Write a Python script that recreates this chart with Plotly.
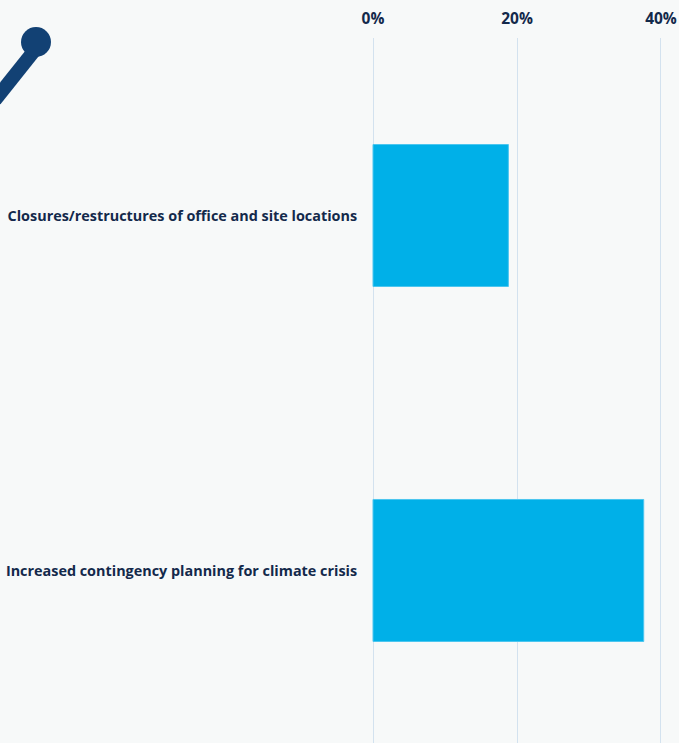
import plotly.graph_objects as go

categories = ["Closures/restructures of office and site locations",
              "Increased contingency planning for climate crisis"]
values = [18.8, 37.6]
x_ticks = [0, 20, 40]
x_tick_labels = ["0%", "20%", "40%"]

W, H = 679, 743
ML, MR, MT, MB = 372, 17, 38, 0
navy = "#13294b"

fig = go.Figure()
fig.add_trace(go.Bar(
    x=values, y=categories, orientation="h",
    marker=dict(color="#00b0e8", line=dict(color="#4cc6ef", width=1)),
    width=0.4, hoverinfo="skip",
))


def px_x(p):
    return (p - ML) / (W - ML - MR)


def px_y(p):
    return 1 - (p - MT) / (H - MT - MB)


# decorative lollipop in the corner
fig.add_shape(type="line", xref="paper", yref="paper",
              x0=px_x(-5), y0=px_y(100), x1=px_x(38), y1=px_y(46),
              line=dict(color="#124174", width=14), layer="above")
fig.add_shape(type="circle", xref="paper", yref="paper",
              x0=px_x(21), y0=px_y(27), x1=px_x(51), y1=px_y(57),
              fillcolor="#124174", line=dict(width=0), layer="above")

fig.update_layout(
    width=W, height=H,
    margin=dict(l=ML, r=MR, t=MT, b=MB),
    paper_bgcolor="#f7f9f9", plot_bgcolor="#f7f9f9",
    showlegend=False, bargap=0.6,
    font=dict(family="Open Sans", color=navy),
    xaxis=dict(side="top", range=[-0.14, 40.14], tickvals=x_ticks, ticktext=x_tick_labels,
               showgrid=True, gridcolor="#d3e2ef", gridwidth=1,
               zeroline=True, zerolinecolor="#d3e2ef", zerolinewidth=1,
               tickfont=dict(size=15.5, family="Open Sans", weight="bold", color=navy),
               ticks="", showline=False, ticklabelstandoff=10),
    yaxis=dict(categoryorder="array", categoryarray=categories,
               range=[1.486, -0.5], showgrid=False, zeroline=False,
               tickfont=dict(size=14.4, family="Open Sans", weight="bold", color=navy),
               ticks="outside", ticklen=11, tickcolor="rgba(0,0,0,0)"),
)

fig.write_html("out.html", config={"displayModeBar": False},
               post_script="document.body.style.margin='0px';")
